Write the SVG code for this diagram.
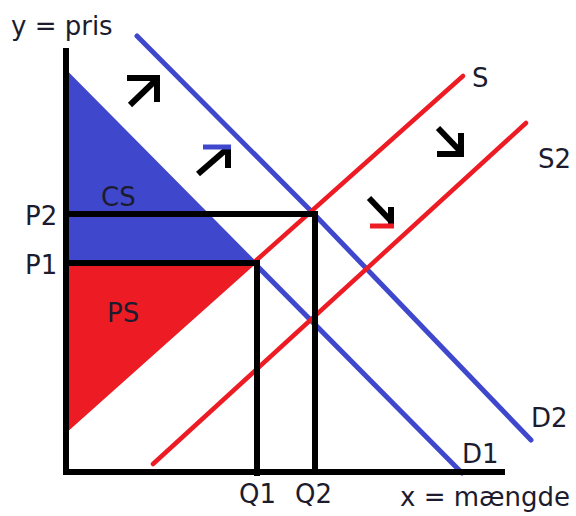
<svg xmlns="http://www.w3.org/2000/svg" width="576" height="516" viewBox="0 0 576 516">
<style>
.lbl{font-family:"DejaVu Sans","Liberation Sans",sans-serif;font-size:26px;fill:#1c1c2e}
.blk{stroke:#000;stroke-width:6;fill:none}
.blue{stroke:#3f48cc;stroke-width:5;fill:none;stroke-linecap:round}
.red{stroke:#ed1c24;stroke-width:4.5;fill:none;stroke-linecap:round}
.arr{stroke:#000;stroke-width:6;fill:none;stroke-linejoin:miter}
</style>
<rect width="576" height="516" fill="#fff"/>
<g id="surplus">
<polygon id="CS-area" points="66,73 254,263 66,263" fill="#3f48cc"/>
<polygon id="PS-area" points="66,263 255,263 66,430" fill="#ed1c24"/>
</g>
<g id="curves">
<line id="D1" class="blue" x1="66" y1="73" x2="462" y2="473"/>
<polyline id="D2" class="blue" points="137,36 313,213 531,440"/>
<line id="S" class="red" x1="66" y1="430" x2="463" y2="76"/>
<line id="S2" class="red" x1="153" y1="464" x2="526" y2="123"/>
</g>
<g id="guides">
<path class="blk" d="M66,214 H315 V474"/>
<path class="blk" d="M66,263 H257 V476"/>
</g>
<g id="axes">
<path class="blk" d="M66,48 V472 H505"/>
</g>
<g id="arrows">
<path class="arr" d="M130,105 L158,78"/>
<path class="arr" d="M127,78 H157 V102"/>
<path class="arr" d="M198,174 L228,148"/>
<path class="arr" d="M228,146 V168"/>
<path d="M203,147 H231" stroke="#3f48cc" stroke-width="5"/>
<path class="arr" d="M438,128 L461,152"/>
<path class="arr" d="M437,154 H461 V133"/>
<path class="arr" d="M369,198 L390,220"/>
<path class="arr" d="M391,207 V225"/>
<path d="M370,226 H394" stroke="#ed1c24" stroke-width="5"/>
</g>
<g id="labels">
<text class="lbl" x="11" y="35">y = pris</text>
<text class="lbl" x="400" y="506">x = mængde</text>
<text class="lbl" x="472" y="87">S</text>
<text class="lbl" x="538" y="168">S2</text>
<text class="lbl" x="531" y="427">D2</text>
<text class="lbl" x="462" y="463">D1</text>
<text class="lbl" x="239" y="503">Q1</text>
<text class="lbl" x="295" y="503">Q2</text>
<text class="lbl" x="25" y="225">P2</text>
<text class="lbl" x="25" y="274">P1</text>
<text class="lbl" x="101" y="206">CS</text>
<text class="lbl" x="107" y="322">PS</text>
</g>
</svg>
